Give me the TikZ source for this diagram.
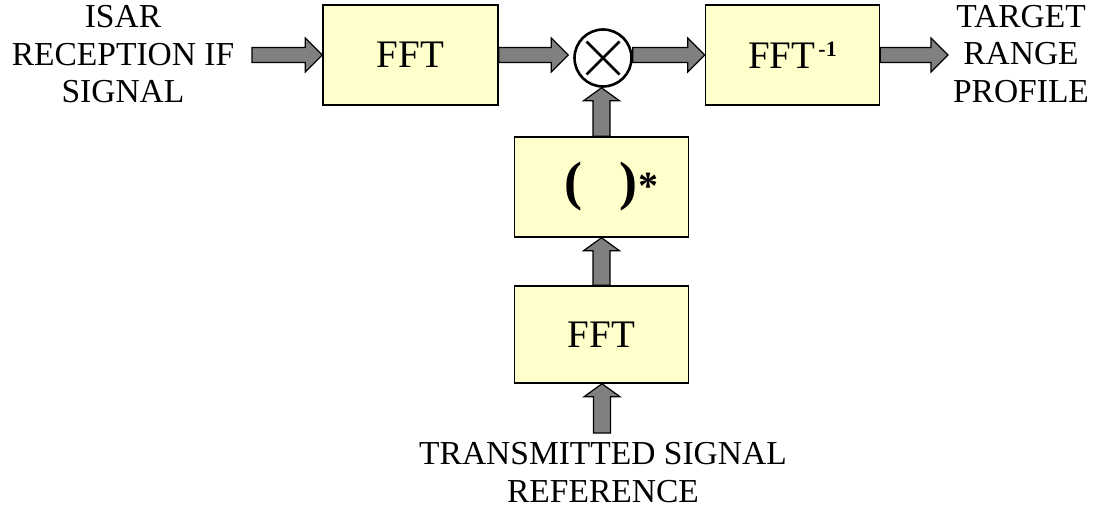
\documentclass[tikz,border=0pt]{standalone}
\usepackage{fontspec}
\setmainfont{Liberation Serif}
\usetikzlibrary{calc}

\definecolor{boxfill}{HTML}{FFFFCC}
\definecolor{arrowfill}{HTML}{808080}

\tikzset{
  blockarrow/.style={fill=arrowfill, draw=black, line width=1.2pt, line join=miter},
  procbox/.style={draw=black, line width=1.5pt, fill=boxfill, minimum width=175pt,
    minimum height=100pt, inner sep=0pt, font=\fontsize{39}{39}\selectfont},
  mixer/.style={circle, draw=black, line width=2.6pt, fill=white, minimum size=57pt, inner sep=0pt},
  iolabel/.style={align=center, inner sep=0pt, font=\fontsize{33.5}{37.5}\selectfont},
}

% horizontal block arrow from #1 to the tip at #2, at the height of #1
\newcommand\harrow[2]{%
  \filldraw[blockarrow] let \p1=(#1), \p2=(#2) in
    (\x1,\y1+7.5pt) -- (\x2-17pt,\y1+7.5pt) -- (\x2-17pt,\y1+17pt) -- (\x2,\y1)
    -- (\x2-17pt,\y1-17pt) -- (\x2-17pt,\y1-7.5pt) -- (\x1,\y1-7.5pt) -- cycle;}

% upward block arrow from #1 to the tip at #2, at the abscissa of #1
\newcommand\varrow[2]{%
  \filldraw[blockarrow] let \p1=(#1), \p2=(#2) in
    (\x1-8.5pt,\y1) -- (\x1-8.5pt,\y2-13pt) -- (\x1-18pt,\y2-13pt) -- (\x1,\y2)
    -- (\x1+18pt,\y2-13pt) -- (\x1+8.5pt,\y2-13pt) -- (\x1+8.5pt,\y1) -- cycle;}

\begin{document}
\begin{tikzpicture}[x=1pt, y=-1pt]
  \useasboundingbox (0,0) rectangle (1097,518);

  % processing blocks
  \node[procbox] (fft1) at (410.5,55) {FFT};
  \node[procbox, minimum width=174pt] (ifft) at (792.5,55)
    {FFT\hspace{3pt}{\fontsize{22}{22}\selectfont\bfseries\raisebox{12pt}{-1}}};
  \node[procbox, minimum width=174pt] (conj) at (601.5,187)
    {\raisebox{-4pt}{\hspace*{20pt}{\fontsize{54}{54}\selectfont\bfseries (\hspace{38pt})}%
     \hspace{1pt}{\fontsize{40}{40}\selectfont\bfseries\raisebox{0pt}{*}}}};
  \node[procbox, minimum width=174pt, minimum height=97pt] (fft2) at (601.5,334.5) {FFT};

  % multiplier
  \node[mixer] (mul) at (603,58) {};
  \draw[line width=2.6pt] ([shift={(-16.5,-16.5)}]mul.center) -- ([shift={(16.5,16.5)}]mul.center);
  \draw[line width=2.6pt] ([shift={(-16.5,16.5)}]mul.center) -- ([shift={(16.5,-16.5)}]mul.center);

  % input / output texts
  \node[iolabel] (inlabel) at (123,54.5) {ISAR\\RECEPTION IF\\SIGNAL};
  \node[iolabel] (outlabel) at (1021,54) {TARGET\\RANGE\\PROFILE};
  \node[iolabel] (reflabel) at (603,472.5) {TRANSMITTED SIGNAL\\REFERENCE};

  % free arrow ends
  \coordinate (in0) at (252,55);
  \coordinate (out0) at (948,55);
  \coordinate (ref0) at (602,433);

  % signal flow
  \harrow{in0}{fft1.west}
  \harrow{fft1.east}{[xshift=-5pt]mul.west}
  \harrow{mul.east |- ifft.west}{ifft.west}
  \harrow{ifft.east}{out0}
  \varrow{conj.north}{mul.south}
  \varrow{fft2.north}{conj.south}
  \varrow{ref0}{fft2.south}
\end{tikzpicture}
\end{document}
